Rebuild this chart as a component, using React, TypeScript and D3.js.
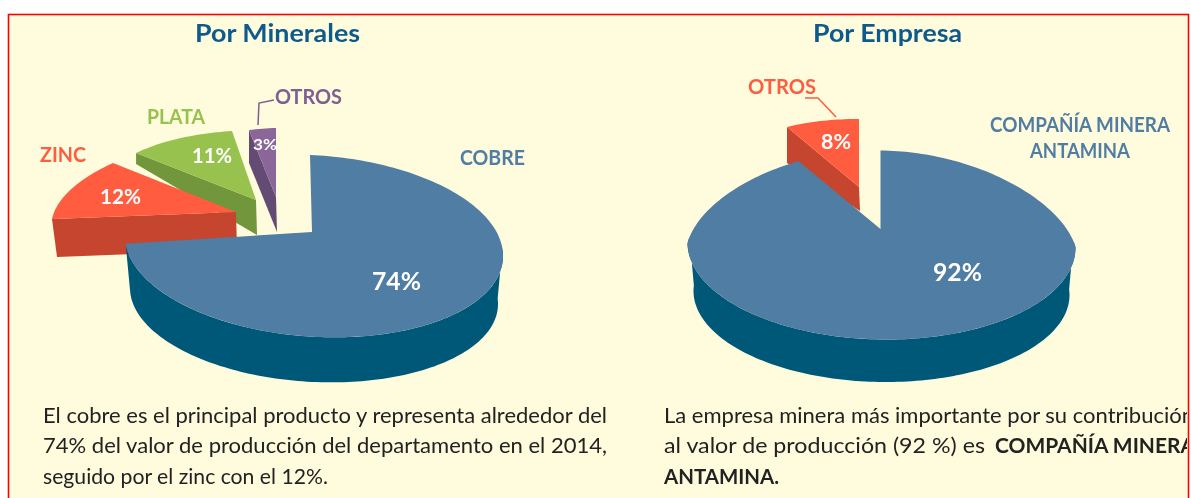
import React from "react";
import * as d3 from "d3";

const titles = ["Por Minerales", "Por Empresa"];
const mineralNames = ["COBRE", "ZINC", "PLATA", "OTROS"];
const mineralValues = [74, 12, 11, 3];
const empresaNames = ["COMPAÑÍA MINERA ANTAMINA", "OTROS"];
const empresaValues = [92, 8];
const leftBody = [
  "El cobre es el principal producto y representa alrededor del",
  "74% del valor de producción del departamento en el 2014,",
  "seguido por el zinc con el 12%.",
];
const rightBody = [
  "La empresa minera más importante por su contribución",
  "al valor de producción (92 %) es",
  "COMPAÑÍA MINERA",
  "ANTAMINA.",
];

const BLUE = "#4f7da3", BLUE_D = "#005878", RED = "#ff5c40", RED_D = "#c6452d";
const GREEN = "#96c24e", GREEN_D = "#72963a", PURPLE = "#8a6699", PURPLE_D = "#644b73";
const TITLE = "#0f5a8c", BODY = "#222222", FONT = "Lato, 'Open Sans', sans-serif";

type Slice = { a: number; b: number; c: number; d: number; ax: number; ay: number; sx: number; sy: number; dy: number; top: string; wall: string };

const pieGen = d3.pie<number>().sort(null).value((d) => d).startAngle(0).endAngle(2 * Math.PI);
const lineGen = d3.line();

function arcPts(t0: number, t1: number, f: (t: number) => [number, number]) {
  const n = Math.max(2, Math.ceil(Math.abs(t1 - t0) * 40));
  const s = d3.scaleLinear().domain([0, n]).range([t0, t1]);
  return d3.range(n + 1).map((i) => f(s(i)));
}

function Exploded({ arc, s }: { arc: d3.PieArcDatum<number>; s: Slice }) {
  const f = (t: number): [number, number] => [
    s.ax + s.a * Math.sin(t) + s.b * Math.cos(t),
    s.ay + s.c * Math.sin(t) + s.d * Math.cos(t),
  ];
  const rim = f(arc.startAngle);
  const wall: [number, number][] = [
    rim,
    [rim[0] + s.sx, rim[1] + s.sy],
    [s.ax + 1, s.ay + s.dy],
    [s.ax, s.ay],
  ];
  const top: [number, number][] = [[s.ax, s.ay], ...arcPts(arc.startAngle, arc.endAngle, f)];
  return (
    <g>
      <path d={lineGen(wall) + "Z"} fill={s.wall} />
      <path d={lineGen(top) + "Z"} fill={s.top} />
    </g>
  );
}

type Main = { cx: number; cy: number; rx: number; ry: number; shear: number; bx: number; k: number; ax: number; ay: number; bcy: number; brx: number; bry: number };

function MainPie({ arc, m }: { arc: d3.PieArcDatum<number>; m: Main }) {
  const f = (t: number): [number, number] => [
    m.cx + m.rx * Math.sin(t) * (1 - m.k * Math.max(Math.cos(t), 0)) + m.bx * Math.cos(t),
    m.cy - m.ry * Math.cos(t) + m.shear * Math.sin(t),
  ];
  const g = (t: number): [number, number] => [m.cx + m.brx * Math.sin(t), m.bcy - m.bry * Math.cos(t) + m.shear * Math.sin(t)];
  const t0 = Math.PI * 0.48;
  const t1 = Math.min(arc.endAngle, Math.PI * 1.52);
  const wall = [...arcPts(t0, t1, f), ...arcPts(t1, t0, g)];
  const top: [number, number][] = [[m.ax, m.ay], ...arcPts(arc.startAngle, arc.endAngle, f)];
  return (
    <g>
      <path d={lineGen(wall) + "Z"} fill={BLUE_D} />
      <path d={lineGen(top) + "Z"} fill={BLUE} />
    </g>
  );
}

function T({ x, y, w, size, fill, weight = 700, children }: { x: number; y: number; w?: number; size: number; fill: string; weight?: number; children: React.ReactNode }) {
  return (
    <text x={x} y={y} fontSize={size} fontWeight={weight} fill={fill} fontFamily={FONT}
      {...(w ? { textLength: w, lengthAdjust: "spacingAndGlyphs" } : {})}>
      {children}
    </text>
  );
}

export default function App() {
  const minArcs = pieGen(mineralValues);
  const empArcs = pieGen(empresaValues);
  const pct = (v: number) => `${v}%`;
  const mainL: Main = { cx: 314, cy: 246, rx: 189, ry: 91, shear: 8, bx: -4, k: 0, ax: 312, ay: 232, bcy: 296, brx: 184, bry: 86 };
  const mainR: Main = { cx: 881.5, cy: 245, rx: 194, ry: 94.5, shear: 2, bx: -1, k: 0.14, ax: 880.5, ay: 229, bcy: 293, brx: 188, bry: 89 };
  const zinc: Slice = { a: 182.6, b: 27.8, c: -2, d: -79.3, ax: 236, ay: 212, sx: 5, sy: 38, dy: 38, top: RED, wall: RED_D };
  const plata: Slice = { a: 160.9, b: 6.3, c: 3.4, d: -69.6, ax: 256, ay: 200, sx: 0, sy: 11, dy: 35, top: GREEN, wall: GREEN_D };
  const otros: Slice = { a: 144, b: 0, c: -4.2, d: -69, ax: 276, ay: 197, sx: 0, sy: 33, dy: 35, top: PURPLE, wall: PURPLE_D };
  const otrosR: Slice = { a: 149.4, b: 0, c: 0.85, d: -68, ax: 859, ay: 187, sx: 0, sy: 36, dy: 24, top: RED, wall: RED_D };

  return (
    <svg width={1191} height={498} style={{ position: "absolute", left: 0, top: 0, display: "block" }}>
      <defs>
        <clipPath id="frame"><rect x={9} y={15} width={1178} height={483} /></clipPath>
        <filter id="soft" x="-5%" y="-5%" width="110%" height="110%"><feGaussianBlur stdDeviation={0.55} /></filter>
      </defs>
      <rect width={1191} height={498} fill="#fff" />
      <rect x={8.5} y={14.5} width={1180} height={490} fill="#fffbdd" stroke="#ff0000" strokeWidth={1.6} />
      <g clipPath="url(#frame)" filter="url(#soft)">
        <T x={195} y={42} w={165} size={25} fill={TITLE}>{titles[0]}</T>
        <T x={813} y={42} w={149} size={25} fill={TITLE}>{titles[1]}</T>

        <Exploded arc={minArcs[3]} s={otros} />
        <Exploded arc={minArcs[2]} s={plata} />
        <Exploded arc={minArcs[1]} s={zinc} />
        <MainPie arc={minArcs[0]} m={mainL} />

        <Exploded arc={empArcs[1]} s={otrosR} />
        <MainPie arc={empArcs[0]} m={mainR} />

        <path d="M274,100 L259,103 L258,125" fill="none" stroke="#7e5f92" strokeWidth={1.5} />
        <path d="M805,98 L818,98 L836,117" fill="none" stroke={RED} strokeWidth={1.5} />

        <T x={40} y={162} w={46} size={21} fill={RED}>{mineralNames[1]}</T>
        <T x={147} y={124} w={58} size={21} fill={GREEN}>{mineralNames[2]}</T>
        <T x={275} y={104} w={67} size={21} fill="#7e5f92">{mineralNames[3]}</T>
        <T x={460} y={165} w={65} size={21} fill={BLUE}>{mineralNames[0]}</T>
        <T x={372} y={290} w={49} size={25} fill="#fff">{pct(mineralValues[0])}</T>
        <T x={100} y={204} w={41} size={21} fill="#fff">{pct(mineralValues[1])}</T>
        <T x={192} y={163} w={40} size={21} fill="#fff">{pct(mineralValues[2])}</T>
        <T x={253} y={150} w={24} size={16} fill="#fff">{pct(mineralValues[3])}</T>

        <T x={748} y={94} w={68} size={21} fill={RED}>{empresaNames[1]}</T>
        <T x={990} y={132} w={180} size={20} fill={BLUE}>{empresaNames[0].split(" ").slice(0, 2).join(" ")}</T>
        <T x={1030} y={158} w={100} size={20} fill={BLUE}>{empresaNames[0].split(" ")[2]}</T>
        <T x={933} y={281} w={49} size={25} fill="#fff">{pct(empresaValues[0])}</T>
        <T x={821} y={149} w={30} size={21} fill="#fff">{pct(empresaValues[1])}</T>

        <T x={43} y={423} w={564} size={20.5} fill={BODY} weight={400}>{leftBody[0]}</T>
        <T x={43} y={453} w={564} size={20.5} fill={BODY} weight={400}>{leftBody[1]}</T>
        <T x={43} y={484} w={285} size={20.5} fill={BODY} weight={400}>{leftBody[2]}</T>
        <T x={664} y={423} w={530} size={20.5} fill={BODY} weight={400}>{rightBody[0]}</T>
        <T x={664} y={453} w={321} size={20.5} fill={BODY} weight={400}>{rightBody[1]}</T>
        <T x={995} y={453} w={200} size={20.5} fill={BODY}>{rightBody[2]}</T>
        <T x={664} y={484} w={115} size={20.5} fill={BODY}>{rightBody[3]}</T>
      </g>
    </svg>
  );
}
